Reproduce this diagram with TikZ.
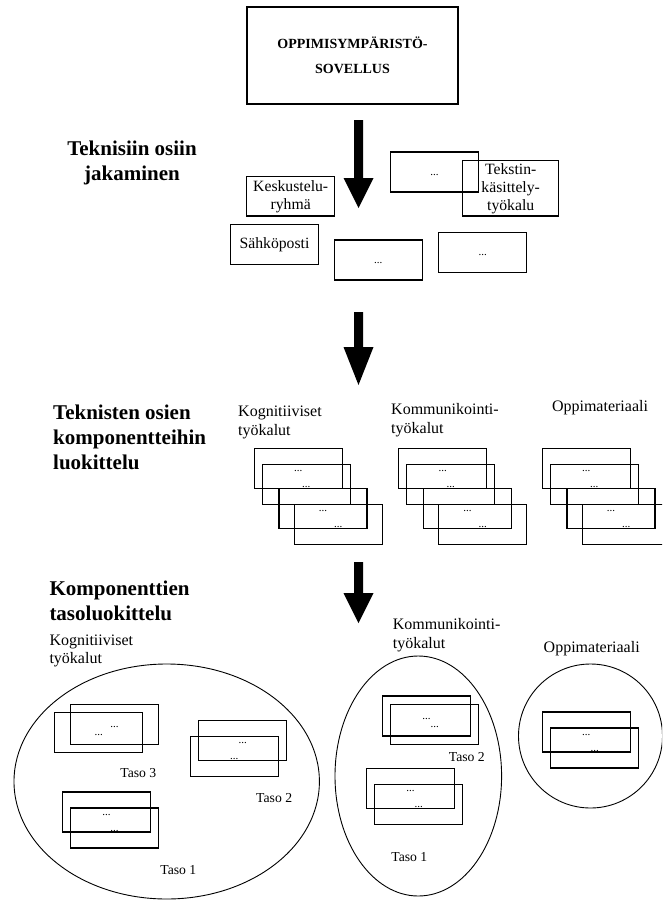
\documentclass[tikz,border=0pt]{standalone}
\usepackage{fontspec}
\setmainfont{Liberation Serif}
\usetikzlibrary{shapes.geometric}

% font size helper: size / baseline skip (in pt)
\newcommand\fsz[2]{\fontsize{#1}{#2}\selectfont}
% solid downward block arrow: x, shaft top, head base, tip
\newcommand\blockdown[4]{%
  \fill[blockarrow] (#1-4.5,#2) -- (#1+4.5,#2) -- (#1+4.5,#3) -- (#1+15,#3)
    -- (#1,#4) -- (#1-15,#3) -- (#1-4.5,#3) -- cycle;}

\begin{document}
\begin{tikzpicture}[x=1pt,y=-1pt,
  frame/.style={draw, line width=1.1pt, inner sep=0pt},
  dotbox/.style={frame, minimum width=88pt, minimum height=40pt,
    font=\fsz{11}{13}, text height=7pt, text depth=1pt},
  namebox/.style={frame, align=center, font=\fsz{15.7}{18}},
  heading/.style={inner sep=0pt, font=\fsz{21}{25}\bfseries},
  group/.style={inner sep=0pt, align=left, font=\fsz{16}{18.4}},
  level/.style={inner sep=0pt, font=\fsz{13.7}{16}},
  region/.style={ellipse, draw, line width=0.9pt, inner sep=0pt},
  blockarrow/.style={fill=black}
]
\useasboundingbox (0,0) rectangle (662,900);
\clip (0,0) rectangle (662,900);

% ---- application ----
\node[frame, minimum width=211pt, minimum height=97pt, align=center,
      font=\fsz{14}{25}\bfseries] (app) at (352.5,55.5)
      {OPPIMISYMPÄRISTÖ-\\SOVELLUS};

% ---- step 1: splitting into technical parts ----
\blockdown{358.5}{120}{178}{208}
\node[heading, align=center] (h1) at (132,162.5) {Teknisiin osiin\\jakaminen};

\node[namebox, minimum width=88pt, minimum height=39.3pt] (kesk) at (290.7,196.3)
      {Keskustelu-\\ryhmä};
\node[namebox, minimum width=87.6pt, minimum height=40pt] (sahko) at (274.5,244.3)
      {Sähköposti};
\node[dotbox] (partA) at (378.2,260) {...};
\node[dotbox] (partB) at (434.5,172) {...};
\node[namebox, minimum width=96pt, minimum height=55.3pt] (teksti) at (510.7,188.3)
      {Tekstin-\\käsittely-\\työkalu};
\node[dotbox] (partC) at (482.7,252.2) {...};

% ---- step 2: classifying parts into components ----
\blockdown{358.5}{312}{347}{385}
\node[heading, align=left, anchor=west] (h2) at (53,437)
      {Teknisten osien\\komponentteihin\\luokittelu};

\node[group, anchor=west] (g2kog) at (238,422.5) {Kognitiiviset\\työkalut};
\node[group, anchor=west] (g2kom) at (391,420) {Kommunikointi-\\työkalut};
\node[group] (g2opp) at (600,408) {Oppimateriaali};

\foreach \g/\dx in {kog/0, kom/144.5, opp/288} {
  \node[dotbox] (\g-a) at ({298.3+\dx},468.3) {...};
  \node[dotbox] (\g-b) at ({306.3+\dx},484.3) {...};
  \node[dotbox] (\g-c) at ({323.0+\dx},508.3) {...};
  \node[dotbox] (\g-d) at ({338.3+\dx},524.3) {...};
}

% ---- step 3: levels of components ----
\blockdown{358.5}{562}{593}{623}
\node[heading, align=left, anchor=west] (h3) at (49.3,600.5)
      {Komponenttien\\tasoluokittelu};

% cognitive tools
\node[group, anchor=west] (g3kog) at (49.3,651) {Kognitiiviset\\työkalut};
\node[region, minimum width=305.4pt, minimum height=235pt] (rkog) at (166.7,781.5) {};
\node[dotbox] (t3a) at (98.8,732.3) {...};
\node[dotbox] (t3b) at (114.5,724.3) {...};
\node[level] (l3) at (138.3,773.3) {Taso 3};
\node[dotbox] (t2a) at (242.7,740.5) {...};
\node[dotbox] (t2b) at (234.3,756.2) {...};
\node[level] (l2) at (274.2,798.3) {Taso 2};
\node[dotbox] (t1a) at (106.5,812) {...};
\node[dotbox] (t1b) at (114.5,828) {...};
\node[level] (l1) at (178.3,870) {Taso 1};

% communication tools
\node[group, anchor=west] (g3kom) at (392.7,635) {Kommunikointi-\\työkalut};
\node[region, minimum width=166.6pt, minimum height=240pt] (rkom) at (418.3,776) {};
\node[dotbox] (m2a) at (426.5,716) {...};
\node[dotbox] (m2b) at (434.8,724.3) {...};
\node[level] (ml2) at (466.8,756.7) {Taso 2};
\node[dotbox] (m1a) at (410.5,788.5) {...};
\node[dotbox] (m1b) at (418.7,804.2) {...};
\node[level] (ml1) at (409.3,856.7) {Taso 1};

% learning material
\node[group] (g3opp) at (591.7,648.3) {Oppimateriaali};
\node[region, minimum width=144pt, minimum height=144pt] (ropp) at (590.5,736) {};
\node[dotbox] (o1a) at (586.2,732) {...};
\node[dotbox] (o1b) at (594.7,748) {...};
\end{tikzpicture}
\end{document}
